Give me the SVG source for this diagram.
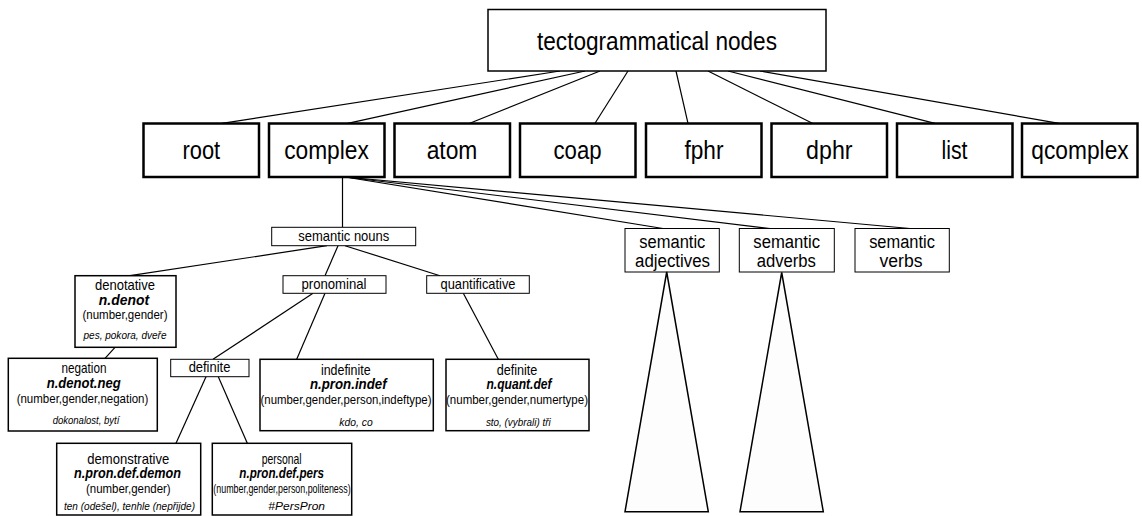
<svg xmlns="http://www.w3.org/2000/svg" width="1142" height="516" viewBox="0 0 1142 516">
<style>
text{font-family:"Liberation Sans",Arial,sans-serif;fill:#000;text-anchor:middle}
.big{font-size:25px}
.mid{font-size:18px}
.lbl{font-size:14.5px}
.bi{font-size:14px;font-weight:bold;font-style:italic}
.par{font-size:13.5px}
.ex{font-size:11px;font-style:italic}
rect{fill:#fff;stroke:#000}
.top{stroke-width:1.5}
.row{stroke-width:2.5}
.det{stroke-width:1.5}
.sm{stroke-width:1}
#connectors line{stroke:#000;stroke-width:1.2}
.tri{fill:#fdfdfd;stroke:#000;stroke-width:1.5}
</style>
<g id="connectors">
<line x1="560" y1="71" x2="222" y2="123.3"/>
<line x1="585" y1="71" x2="347.7" y2="123.3"/>
<line x1="600" y1="71" x2="469.8" y2="123.3"/>
<line x1="628" y1="71" x2="595" y2="123.3"/>
<line x1="676" y1="71" x2="688" y2="123.3"/>
<line x1="708" y1="71" x2="812.4" y2="123.3"/>
<line x1="728" y1="71" x2="935" y2="123.3"/>
<line x1="760" y1="71" x2="1059" y2="123.3"/>
<line x1="342.5" y1="177" x2="342.5" y2="227.3"/>
<line x1="345" y1="177" x2="663" y2="228.5"/>
<line x1="345" y1="177" x2="770" y2="228.5"/>
<line x1="345" y1="177" x2="910" y2="228.5"/>
<line x1="327" y1="245.7" x2="130" y2="275.7"/>
<line x1="338" y1="245.7" x2="325" y2="275.7"/>
<line x1="345" y1="245.7" x2="440" y2="275.7"/>
<line x1="115" y1="347.3" x2="105" y2="358.3"/>
<line x1="313" y1="293.3" x2="213" y2="359.3"/>
<line x1="325" y1="293.3" x2="296.7" y2="359.3"/>
<line x1="463.3" y1="293.3" x2="498.3" y2="359.3"/>
<line x1="206" y1="376.7" x2="176" y2="443.3"/>
<line x1="218.3" y1="376.7" x2="247.3" y2="443.3"/>
</g>
<g id="n-tecto"><rect class="top" x="488" y="9.5" width="338" height="61.5"/><text class="big" x="657" y="50" textLength="240" lengthAdjust="spacingAndGlyphs">tectogrammatical nodes</text></g>
<g id="n-root"><rect class="row" x="143.5" y="123.5" width="115.5" height="53.5"/><text class="big" x="201.3" y="159" textLength="37.7" lengthAdjust="spacingAndGlyphs">root</text></g>
<g id="n-complex"><rect class="row" x="269" y="123.5" width="115.5" height="53.5"/><text class="big" x="326.5" y="159" textLength="84.7" lengthAdjust="spacingAndGlyphs">complex</text></g>
<g id="n-atom"><rect class="row" x="394.5" y="123.5" width="115.5" height="53.5"/><text class="big" x="452" y="159" textLength="50.7" lengthAdjust="spacingAndGlyphs">atom</text></g>
<g id="n-coap"><rect class="row" x="520" y="123.5" width="115.5" height="53.5"/><text class="big" x="577.5" y="159" textLength="48" lengthAdjust="spacingAndGlyphs">coap</text></g>
<g id="n-fphr"><rect class="row" x="646" y="123.5" width="115.5" height="53.5"/><text class="big" x="704" y="159" textLength="39" lengthAdjust="spacingAndGlyphs">fphr</text></g>
<g id="n-dphr"><rect class="row" x="771.5" y="123.5" width="115.5" height="53.5"/><text class="big" x="829.3" y="159" textLength="46.4" lengthAdjust="spacingAndGlyphs">dphr</text></g>
<g id="n-list"><rect class="row" x="897" y="123.5" width="115.5" height="53.5"/><text class="big" x="954.5" y="159" textLength="26" lengthAdjust="spacingAndGlyphs">list</text></g>
<g id="n-qcomplex"><rect class="row" x="1022" y="123.5" width="115.5" height="53.5"/><text class="big" x="1080" y="159" textLength="97.3" lengthAdjust="spacingAndGlyphs">qcomplex</text></g>
<g id="n-semnouns"><rect class="sm" x="271.7" y="227.3" width="144" height="18.4"/><text class="lbl" x="343.8" y="241" textLength="91" lengthAdjust="spacingAndGlyphs">semantic nouns</text></g>
<g id="n-semadj"><rect class="sm" x="625" y="228.5" width="94.3" height="43.5"/><text class="mid" x="672.3" y="247.7" textLength="66" lengthAdjust="spacingAndGlyphs">semantic</text><text class="mid" x="672.5" y="266.7" textLength="75" lengthAdjust="spacingAndGlyphs">adjectives</text></g>
<g id="n-semadv"><rect class="sm" x="739.3" y="228.5" width="95" height="43.5"/><text class="mid" x="786.7" y="247.7" textLength="66.7" lengthAdjust="spacingAndGlyphs">semantic</text><text class="mid" x="786.3" y="266.7" textLength="59.3" lengthAdjust="spacingAndGlyphs">adverbs</text></g>
<g id="n-semverbs"><rect class="sm" x="855" y="228.5" width="94.3" height="43.5"/><text class="mid" x="902" y="247.7" textLength="65.7" lengthAdjust="spacingAndGlyphs">semantic</text><text class="mid" x="901" y="266.7" textLength="43" lengthAdjust="spacingAndGlyphs">verbs</text></g>
<g id="n-denot"><rect class="det" x="75" y="275.7" width="101" height="71.6"/><text class="lbl" x="125" y="289.5" textLength="60" lengthAdjust="spacingAndGlyphs">denotative</text><text class="bi" x="124" y="304.5" textLength="50.3" lengthAdjust="spacingAndGlyphs">n.denot</text><text class="par" x="125" y="319" textLength="85" lengthAdjust="spacingAndGlyphs">(number,gender)</text><text class="ex" x="125" y="339" textLength="83" lengthAdjust="spacingAndGlyphs">pes, pokora, dveře</text></g>
<g id="n-pronominal"><rect class="sm" x="283" y="275.7" width="103" height="17.6"/><text class="lbl" x="334" y="289" textLength="65" lengthAdjust="spacingAndGlyphs">pronominal</text></g>
<g id="n-quantificative"><rect class="sm" x="426.7" y="275.7" width="102.6" height="17.6"/><text class="lbl" x="478" y="289" textLength="75" lengthAdjust="spacingAndGlyphs">quantificative</text></g>
<g id="n-negation"><rect class="det" x="8.3" y="358.3" width="149" height="72.7"/><text class="lbl" x="84" y="373" textLength="45" lengthAdjust="spacingAndGlyphs">negation</text><text class="bi" x="83.7" y="388" textLength="74" lengthAdjust="spacingAndGlyphs">n.denot.neg</text><text class="par" x="82.5" y="402.7" textLength="131.7" lengthAdjust="spacingAndGlyphs">(number,gender,negation)</text><text class="ex" x="86" y="424" textLength="66.7" lengthAdjust="spacingAndGlyphs">dokonalost, bytí</text></g>
<g id="n-pron-definite"><rect class="sm" x="170.7" y="359.3" width="78.3" height="17.4"/><text class="lbl" x="209.5" y="372.3" textLength="41.7" lengthAdjust="spacingAndGlyphs">definite</text></g>
<g id="n-indefinite"><rect class="det" x="260" y="359.3" width="173.3" height="71.4"/><text class="lbl" x="345.8" y="374.5" textLength="49.7" lengthAdjust="spacingAndGlyphs">indefinite</text><text class="bi" x="348.3" y="389" textLength="76.7" lengthAdjust="spacingAndGlyphs">n.pron.indef</text><text class="par" x="346" y="403.5" textLength="171" lengthAdjust="spacingAndGlyphs">(number,gender,person,indeftype)</text><text class="ex" x="356" y="426" textLength="33.3" lengthAdjust="spacingAndGlyphs">kdo, co</text></g>
<g id="n-quant-definite"><rect class="det" x="446" y="359.3" width="143" height="71.4"/><text class="lbl" x="517" y="374.5" textLength="40.7" lengthAdjust="spacingAndGlyphs">definite</text><text class="bi" x="519" y="388.5" textLength="65" lengthAdjust="spacingAndGlyphs">n.quant.def</text><text class="par" x="517" y="404" textLength="142" lengthAdjust="spacingAndGlyphs">(number,gender,numertype)</text><text class="ex" x="518.3" y="426" textLength="64.7" lengthAdjust="spacingAndGlyphs">sto, (vybrali) tři</text></g>
<g id="n-demonstrative"><rect class="det" x="56.7" y="443.3" width="144" height="71.7"/><text class="lbl" x="128.3" y="463.8" textLength="82" lengthAdjust="spacingAndGlyphs">demonstrative</text><text class="bi" x="127.5" y="478.3" textLength="107" lengthAdjust="spacingAndGlyphs">n.pron.def.demon</text><text class="par" x="128.3" y="493" textLength="84.7" lengthAdjust="spacingAndGlyphs">(number,gender)</text><text class="ex" x="129.5" y="509.5" textLength="131" lengthAdjust="spacingAndGlyphs">ten (odešel), tenhle (nepřijde)</text></g>
<g id="n-personal"><rect class="det" x="212.3" y="443.3" width="139.4" height="71.7"/><text class="lbl" x="281.7" y="463.8" textLength="40" lengthAdjust="spacingAndGlyphs">personal</text><text class="bi" x="281.7" y="478.3" textLength="84.7" lengthAdjust="spacingAndGlyphs">n.pron.def.pers</text><text class="par" x="282" y="493" textLength="137.3" lengthAdjust="spacingAndGlyphs">(number,gender,person,politeness)</text><text class="ex" x="296.7" y="509.5" textLength="56.7" lengthAdjust="spacingAndGlyphs">#PersPron</text></g>
<g id="n-tri-adj"><polygon class="tri" points="666.7,272 625,511.7 708.3,511.7"/></g>
<g id="n-tri-adv"><polygon class="tri" points="781.7,272.5 740,511.7 823.3,511.7"/></g>
</svg>
